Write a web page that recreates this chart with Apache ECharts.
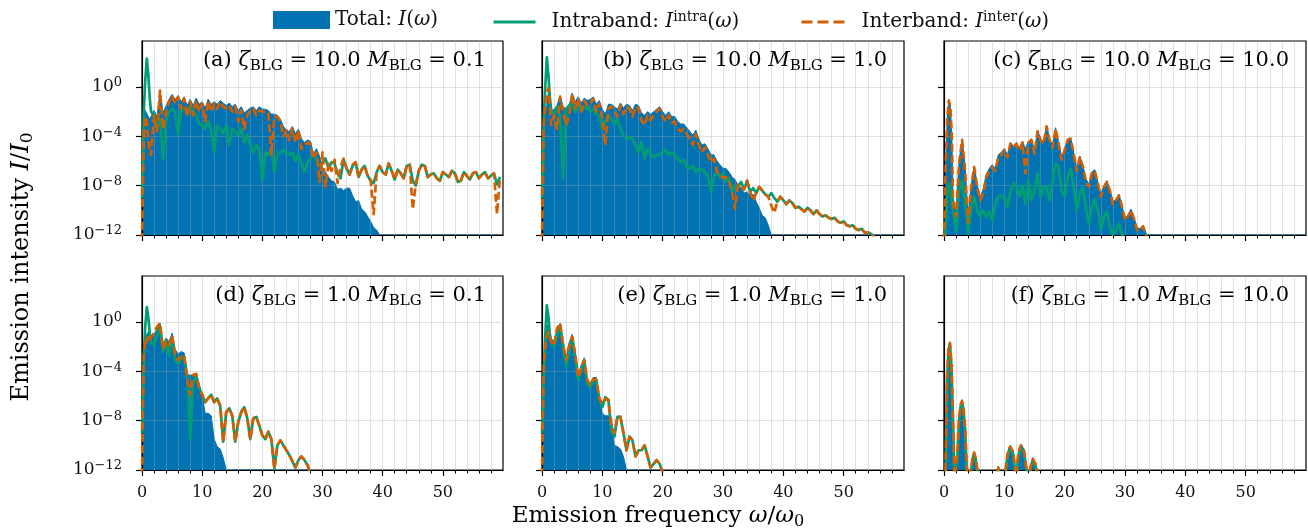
<!DOCTYPE html>
<html>
<head>
<meta charset="utf-8">
<script src="https://cdn.jsdelivr.net/npm/echarts@6/dist/echarts.min.js"></script>
<style>
  html, body { margin: 0; background: #fff; }
  #chart { width: 1308px; height: 529px; }
</style>
</head>
<body>
<div id="chart"></div>
<script>
// all intensities are log10(I/I0)
// frequency grid (w/w0): a few fine points near the first harmonic, then every 0.5
const freqHead = [0, 0.3, 0.55, 0.8, 1.05, 1.3];
const freq = freqHead.concat(Array.from({ length: 117 }, (_, i) => 1.5 + i * 0.5));
// panel (f) uses a finer grid, 0 .. 16 every 0.25
const freqF = Array.from({ length: 65 }, (_, i) => i * 0.25);

// (a) zeta = 10, M = 0.1
const aTotal = [-12, -2.3, -1.9, -2.0, -2.4, -2.6,
  -2.6, -1.9, -2.4, -0.3, -2.1, -1.5, -1.0, -0.6, -1.0, -0.7,
  -1.2, -0.8, -1.5, -1.0, -1.5, -0.9, -1.4, -1.2, -1.7, -1.0,
  -1.4, -1.2, -1.4, -1.1, -1.3, -1.5, -1.3, -1.6, -1.4, -1.9,
  -1.6, -2.1, -1.9, -1.7, -1.6, -1.9, -1.6, -1.8, -1.8, -1.9,
  -2.2, -2.2, -2.3, -2.6, -3.2, -3.5, -3.6, -3.2, -3.8, -3.4,
  -4.2, -4.5, -4.3, -4.4, -5.4, -5.0, -5.6, -6.5, -6.9, -7.3,
  -7.6, -7.7, -8.3, -8.2, -8.4, -8.2, -8.2, -8.8, -9.3, -9.2,
  -9.9, -10.1, -10.5, -10.9, -11.4, -11.6, -12, -12, -12, -12,
  -12, -12, -12, -12, -12, -12, -12, -12, -12, -12,
  -12, -12, -12, -12, -12, -12, -12, -12, -12, -12,
  -12, -12, -12, -12, -12, -12, -12, -12, -12, -12,
  -12, -12, -12, -12, -12, -12, -12];
const aIntra = [-9, -2.0, 0.6, 2.3, 1.0, -1.0,
  -2.0, -2.3, -3.4, -2.6, -5.9, -2.8, -2.0, -1.75, -2.0, -3.8,
  -1.9, -1.75, -2.0, -1.6, -1.9, -2.3, -3.0, -3.1, -3.4, -2.8,
  -3.5, -5.3, -3.1, -3.4, -3.8, -3.1, -4.7, -3.4, -3.6, -3.9,
  -3.4, -4.5, -3.9, -4.7, -5.3, -4.7, -5.0, -7.5, -5.3, -5.5,
  -5.0, -6.9, -5.5, -5.3, -5.1, -5.4, -5.5, -5.3, -6.0, -5.5,
  -6.2, -6.9, -6.1, -5.8, -5.5, -5.8, -6.4, -6.1, -5.8, -6.6,
  -6.1, -6.2, -7.0, -7.4, -5.9, -6.6, -7.1, -6.4, -6.1, -7.3,
  -6.7, -6.4, -7.2, -7.6, -7.8, -6.9, -6.4, -6.9, -7.1, -6.2,
  -6.8, -7.5, -6.7, -7.0, -7.4, -6.4, -6.3, -7.6, -8.0, -6.8,
  -6.3, -6.4, -7.3, -7.1, -7.0, -7.4, -7.6, -6.9, -7.1, -7.3,
  -6.8, -7.0, -7.7, -7.6, -6.9, -7.2, -7.5, -7.0, -6.9, -7.4,
  -7.1, -6.9, -7.4, -7.2, -7.0, -7.9, -7.3];
const aInter = [-12.5, -4.0, -2.4, -2.9, -4.3, -5.3,
  -5.5, -2.3, -3.6, -0.3, -3.4, -2.0, -1.2, -0.7, -1.35, -0.8,
  -1.75, -0.95, -2.4, -1.2, -2.3, -1.1, -2.0, -1.35, -2.8, -1.1,
  -2.0, -1.35, -1.75, -1.2, -1.6, -1.75, -1.5, -2.0, -1.6, -2.8,
  -1.9, -3.4, -2.3, -1.9, -1.75, -2.3, -1.9, -2.0, -2.0, -2.1,
  -5.5, -2.4, -2.4, -2.8, -4.0, -3.5, -4.3, -3.4, -4.5, -3.5,
  -5.0, -4.7, -4.5, -4.6, -5.8, -5.3, -7.7, -5.3, -8.1, -6.2,
  -6.8, -5.9, -7.8, -6.5, -5.8, -6.6, -7.1, -6.3, -6.1, -7.3,
  -6.7, -6.4, -7.2, -7.5, -10.3, -6.9, -6.4, -6.9, -7.1, -6.2,
  -6.8, -7.5, -6.7, -7.0, -7.4, -6.4, -6.3, -9.9, -7.9, -6.8,
  -6.3, -6.4, -7.3, -7.1, -7.0, -7.4, -7.6, -6.9, -7.1, -7.3,
  -6.8, -7.0, -7.7, -7.6, -6.9, -7.2, -7.5, -7.0, -6.9, -7.4,
  -7.1, -6.9, -7.4, -7.2, -7.0, -10.3, -7.3];

// (b) zeta = 10, M = 1
const bTotal = [-12, -2.3, -2.0, -1.5, -0.5, -1.3,
  -2.0, -1.8, -1.5, -0.7, -1.6, -1.8, -1.5, -0.5, -1.2, -0.8,
  -1.3, -0.9, -1.1, -1.0, -0.8, -1.4, -1.1, -1.8, -2.2, -1.4,
  -1.4, -1.6, -1.8, -1.3, -1.7, -1.4, -1.5, -1.9, -1.4, -1.5,
  -2.1, -2.3, -2.0, -2.2, -2.0, -1.8, -1.6, -2.0, -2.3, -2.0,
  -2.4, -2.4, -2.8, -3.0, -3.0, -3.3, -3.6, -3.9, -3.5, -4.2,
  -4.7, -4.6, -5.0, -5.5, -5.5, -6.0, -6.3, -6.6, -6.6, -6.9,
  -7.3, -7.5, -8.0, -8.2, -8.6, -8.5, -8.8, -8.7, -9.3, -9.8,
  -10.4, -10.6, -11.2, -12, -12, -12, -12, -12, -12, -12,
  -12, -12, -12, -12, -12, -12, -12, -12, -12, -12,
  -12, -12, -12, -12, -12, -12, -12, -12, -12, -12,
  -12, -12, -12, -12, -12, -12, -12, -12, -12, -12,
  -12, -12, -12, -12, -12, -12, -12];
const bIntra = [-9, -2.5, 0.1, 2.4, 1.0, -0.8,
  -1.8, -2.3, -1.6, -2.3, -7.4, -1.75, -1.5, -1.35, -2.0, -1.5,
  -1.9, -1.75, -1.5, -2.0, -1.75, -2.2, -2.4, -3.4, -2.8, -2.3,
  -2.6, -3.0, -2.6, -3.4, -3.9, -4.2, -4.1, -4.2, -4.7, -5.3,
  -4.5, -5.8, -5.0, -5.4, -5.7, -5.5, -5.5, -5.3, -5.1, -5.5,
  -5.3, -5.5, -5.8, -6.1, -5.9, -6.5, -6.6, -6.4, -6.9, -6.6,
  -6.7, -6.9, -7.2, -8.5, -7.3, -6.9, -7.3, -7.0, -7.7, -7.4,
  -8.5, -8.0, -8.1, -7.7, -8.3, -7.6, -8.5, -8.2, -8.6, -8.1,
  -8.4, -8.7, -8.9, -8.6, -9.0, -9.3, -8.9, -9.2, -9.5, -9.2,
  -9.4, -9.8, -9.7, -9.9, -10.1, -9.8, -10.0, -10.3, -10.0, -10.3,
  -10.5, -10.4, -10.6, -10.7, -10.6, -10.9, -11.0, -10.9, -11.2, -11.3,
  -11.2, -11.5, -11.6, -11.5, -11.8, -11.8, -11.9, -12.1, -12.6, -13.5,
  -14];
const bInter = [-12.5, -3.0, -1.5, -0.6, -0.1, -1.5,
  -3.1, -2.3, -3.4, -0.8, -2.0, -3.1, -2.3, -0.55, -1.75, -0.95,
  -2.0, -1.1, -1.5, -1.35, -0.95, -2.0, -1.35, -2.6, -4.7, -1.75,
  -1.6, -1.9, -2.4, -1.5, -2.2, -1.6, -1.75, -2.4, -1.6, -1.75,
  -2.7, -3.1, -2.3, -2.7, -2.3, -2.0, -1.75, -2.4, -2.8, -2.3,
  -2.9, -2.8, -3.4, -3.6, -3.4, -3.8, -4.2, -4.7, -3.8, -4.7,
  -5.3, -4.9, -5.5, -6.1, -5.8, -6.9, -7.0, -7.4, -7.3, -7.6,
  -8.5, -9.9, -7.9, -8.1, -8.3, -7.6, -8.5, -9.2, -8.6, -8.1,
  -8.4, -8.7, -8.9, -9.6, -10.2, -9.3, -8.9, -9.2, -9.5, -9.2,
  -9.4, -9.8, -9.7, -9.9, -10.1, -9.8, -10.0, -10.3, -10.0, -10.3,
  -10.5, -10.4, -10.6, -10.7, -10.6, -10.9, -11.0, -10.9, -11.2, -11.3,
  -11.2, -11.5, -11.6, -11.5, -11.8, -11.8, -11.9, -12.1, -12.6, -13.5,
  -14];

// (c) zeta = 10, M = 10
const cTotal = [-12, -6.0, -2.4, -1.0, -1.5, -4.0,
  -9.0, -10.0, -6.0, -4.2, -6.5, -10.5, -8.0, -6.4, -7.9, -8.9,
  -8.3, -7.1, -6.6, -6.3, -6.6, -5.5, -5.3, -5.0, -5.5, -4.5,
  -4.8, -4.5, -5.0, -4.4, -5.0, -4.4, -4.2, -5.2, -3.5, -4.2,
  -4.5, -3.1, -4.2, -4.8, -3.3, -4.5, -5.7, -5.0, -4.2, -4.1,
  -5.3, -6.6, -5.6, -6.3, -7.4, -7.9, -6.9, -6.7, -7.7, -8.7,
  -8.0, -7.6, -8.3, -9.3, -9.1, -8.7, -9.6, -10.6, -10.4, -9.9,
  -10.6, -11.4, -11.5, -11.2, -11.9, -12, -12, -12, -12, -12,
  -12, -12, -12, -12, -12, -12, -12, -12, -12, -12,
  -12, -12, -12, -12, -12, -12, -12, -12, -12, -12,
  -12, -12, -12, -12, -12, -12, -12, -12, -12, -12,
  -12, -12, -12, -12, -12, -12, -12, -12, -12, -12,
  -12, -12, -12, -12, -12, -12, -12];
const cIntra = [-14, -11, -8.9, -7.8, -8.3, -9.5,
  -10.1, -11.7, -8.4, -7.6, -9.5, -11.9, -10.0, -8.9, -10.0, -10.5,
  -10.0, -10.5, -10.1, -10.8, -9.5, -8.9, -8.8, -8.9, -9.7, -8.5,
  -7.8, -8.1, -8.9, -8.0, -9.5, -7.6, -9.2, -8.4, -7.0, -8.9,
  -8.1, -8.1, -9.2, -7.6, -6.2, -6.5, -8.4, -8.9, -7.3, -6.6,
  -8.1, -10.0, -8.6, -8.2, -9.7, -11.1, -9.7, -9.1, -10.0, -11.6,
  -10.5, -10.1, -11.3, -12.0, -11.6, -11.1, -11.9, -13.0, -14];
const cInter = [-12.5, -6.0, -2.5, -1.1, -1.6, -4.0,
  -9.5, -10.5, -6.2, -4.3, -6.8, -11.0, -8.1, -6.5, -8.1, -9.2,
  -8.6, -7.3, -6.8, -6.5, -6.8, -5.7, -5.5, -5.1, -5.7, -4.6,
  -4.9, -4.6, -5.1, -4.5, -7.0, -4.5, -4.3, -5.4, -3.6, -4.3,
  -4.6, -3.2, -4.3, -4.9, -3.4, -4.6, -5.9, -5.1, -4.3, -4.2,
  -5.4, -6.8, -5.7, -6.4, -7.6, -8.1, -7.0, -6.8, -7.8, -8.9,
  -8.1, -7.7, -8.4, -9.5, -9.2, -8.8, -9.7, -10.8, -10.5, -10.0,
  -10.7, -11.6, -11.6, -11.3, -12.0, -13.5, -14];

// (d) zeta = 1, M = 0.1
const dTotal = [-12, -2.8, -1.8, -1.0, -0.8, -1.3,
  -1.4, -1.0, -0.6, -0.1, -1.8, -1.3, -1.6, -0.9, -2.2, -2.6,
  -2.4, -2.5, -4.3, -4.3, -4.3, -4.2, -5.0, -5.9, -7.4, -7.4,
  -7.6, -9.5, -10.1, -10.3, -11.0, -12, -12, -12, -12, -12,
  -12, -12, -12, -12, -12, -12, -12, -12, -12, -12,
  -12, -12, -12, -12, -12, -12, -12, -12, -12, -12,
  -12, -12, -12, -12, -12];
const dIntra = [-9, -2.8, -0.3, 1.2, 0.4, -1.0,
  -1.6, -1.9, -1.1, -0.4, -2.4, -1.5, -2.7, -1.2, -3.1, -3.4,
  -3.0, -2.8, -4.3, -9.5, -5.1, -4.3, -5.4, -5.9, -6.5, -6.2,
  -5.9, -6.5, -6.2, -6.8, -9.7, -7.3, -7.0, -7.6, -9.7, -8.1,
  -7.3, -6.9, -7.8, -9.5, -7.8, -7.7, -8.4, -9.2, -9.5, -8.9,
  -9.5, -11.9, -10.0, -9.6, -10.0, -10.4, -10.8, -11.3, -11.8, -11.2,
  -10.9, -11.2, -11.6, -12.3, -14];
const dInter = [-12.5, -2.8, -1.4, -1.6, -1.1, -1.4,
  -1.3, -0.9, -0.4, -0.1, -2.2, -1.6, -1.9, -1.1, -2.6, -3.1,
  -2.8, -2.7, -4.6, -5.9, -4.3, -4.2, -5.4, -5.9, -6.5, -6.2,
  -5.9, -6.5, -6.2, -6.8, -9.7, -7.3, -7.0, -7.6, -9.7, -8.1,
  -7.3, -6.9, -7.8, -9.5, -7.8, -7.7, -8.4, -9.2, -9.5, -8.9,
  -9.5, -11.9, -10.0, -9.6, -10.0, -10.4, -10.8, -11.3, -11.8, -11.2,
  -10.9, -11.2, -11.6, -12.3, -14];

// (e) zeta = 1, M = 1
const eTotal = [-12, -3.5, -1.5, -0.2, -0.4, -1.1,
  -1.3, -1.6, -0.6, -0.1, -1.5, -3.0, -1.7, -1.0, -2.4, -4.3,
  -3.5, -2.9, -4.6, -5.0, -4.5, -4.5, -6.2, -7.4, -7.6, -7.6,
  -7.7, -10.0, -10.1, -10.3, -10.9, -12, -12, -12, -12, -12,
  -12, -12, -12, -12, -12, -12, -12, -12, -12];
const eIntra = [-9, -4.0, -1.0, 1.35, 0.5, -1.0,
  -1.5, -2.0, -1.2, -0.3, -2.0, -3.6, -2.3, -1.2, -2.8, -4.7,
  -3.9, -3.1, -5.0, -5.3, -4.7, -4.7, -6.3, -6.9, -6.1, -6.3,
  -8.8, -9.3, -7.7, -7.7, -9.0, -10.4, -9.3, -9.6, -10.9, -10.4,
  -10.4, -10.0, -10.9, -11.8, -11.5, -11.2, -11.5, -12.2, -14];
const eInter = [-12.5, -3.5, -2.0, -1.2, -0.8, -1.3,
  -1.6, -1.9, -0.5, -0.1, -1.8, -3.1, -1.9, -1.2, -2.6, -4.5,
  -3.8, -3.1, -4.7, -5.1, -4.6, -4.7, -6.2, -6.6, -6.2, -6.3,
  -8.5, -9.0, -7.7, -7.7, -9.0, -10.4, -9.3, -9.6, -10.9, -10.4,
  -10.4, -10.0, -10.9, -11.8, -11.5, -11.2, -11.5, -12.2, -14];

// (f) zeta = 1, M = 10  (on freqF)
const fTotal = [-13, -12.5, -4.4, -1.9, -1.6, -3.4, -7.8, -13, -13, -10.4,
  -7.7, -6.6, -6.3, -6.9, -8.5, -11.4, -13, -13, -11.8, -10.8,
  -10.5, -10.9, -11.8, -13, -13, -13, -13, -13, -13, -13,
  -13, -13, -13, -13, -13, -12.2, -11.7, -12.4, -13, -13,
  -13, -11.7, -10.7, -10.2, -10.0, -10.0, -10.5, -11.7, -12.4, -10.9,
  -10.2, -9.9, -9.9, -10.3, -11.1, -12.2, -12.5, -11.9, -11.3, -11.0,
  -11.0, -11.5, -12.4, -13, -13];
const fIntra = [-13, -12.8, -4.8, -2.3, -2.0, -3.8, -8.3, -13, -13, -10.8,
  -8.0, -6.9, -6.6, -7.2, -8.8, -11.7, -13, -13, -12.0, -11.1,
  -10.8, -11.2, -12.0, -13, -13, -13, -13, -13, -13, -13,
  -13, -13, -13, -13, -13, -12.4, -11.9, -12.6, -13, -13,
  -13, -12.0, -11.0, -10.5, -10.3, -10.3, -10.8, -12.0, -12.6, -11.2,
  -10.5, -10.2, -10.2, -10.6, -11.4, -12.4, -12.7, -12.1, -11.6, -11.3,
  -11.3, -11.8, -12.6, -13, -13];
const fInter = [-13, -12.5, -4.5, -2.0, -1.7, -3.5, -8.0, -13, -13, -10.5,
  -7.8, -6.7, -6.4, -7.0, -8.6, -11.5, -13, -13, -11.9, -10.9,
  -10.6, -11.0, -11.9, -13, -13, -13, -13, -13, -13, -13,
  -13, -13, -13, -13, -13, -12.3, -11.8, -12.5, -13, -13,
  -13, -11.8, -10.8, -10.3, -10.1, -10.1, -10.6, -11.8, -12.5, -11.0,
  -10.3, -10.0, -10.0, -10.4, -11.2, -12.3, -12.6, -12.0, -11.4, -11.1,
  -11.1, -11.6, -12.5, -13, -13];

const panelNames = ['a', 'b', 'c', 'd', 'e', 'f'];
const zetaVals = ['10.0', '10.0', '10.0', '1.0', '1.0', '1.0'];
const massVals = ['0.1', '1.0', '10.0', '0.1', '1.0', '10.0'];
const yTicks = [-12, -8, -4, 0];
const xTicks = [0, 10, 20, 30, 40, 50];

const BLUE = '#0173b2', GREEN = '#029e73', ORANGE = '#d55e00';
const TXT = '#111';
const FONT = "'DejaVu Serif', serif";
const GRIDC = 'rgba(170,170,170,0.35)';

function richSet(size, ratio) {
    let small = Math.round(size * (ratio || 0.7));
    return {
        n: { fontFamily: FONT, fontSize: size, color: TXT, lineHeight: size + 4 },
        i: { fontFamily: FONT, fontSize: size, fontStyle: 'italic', color: TXT, lineHeight: size + 4 },
        s: { fontFamily: FONT, fontSize: small, color: TXT, verticalAlign: 'bottom', lineHeight: small },
        p: { fontFamily: FONT, fontSize: small, color: TXT, verticalAlign: 'top', lineHeight: small }
    };
}

const panelData = [
    { xs: freq, total: aTotal, intra: aIntra, inter: aInter },
    { xs: freq, total: bTotal, intra: bIntra, inter: bInter },
    { xs: freq, total: cTotal, intra: cIntra, inter: cInter },
    { xs: freq, total: dTotal, intra: dIntra, inter: dInter },
    { xs: freq, total: eTotal, intra: eIntra, inter: eInter },
    { xs: freqF, total: fTotal, intra: fIntra, inter: fInter }
];

const rows = [{ top: 41, height: 194 }, { top: 276, height: 194 }];
const cols = [{ left: 142, width: 361 }, { left: 542, width: 362 }, { left: 944, width: 362 }];

function pts(xs, ys) {
    return ys.map((v, i) => [xs[i], v]);
}

let grids = [], xAxes = [], yAxes = [], series = [], graphics = [];

panelData.forEach((p, k) => {
    let r = rows[Math.floor(k / 3)], c = cols[k % 3];
    let bottomRow = k >= 3, leftCol = k % 3 === 0;
    grids.push({
        left: c.left, top: r.top, width: c.width, height: r.height,
        show: true, borderColor: '#000', borderWidth: 1.2, backgroundColor: 'transparent'
    });
    xAxes.push({
        type: 'value', gridIndex: k, min: 0, max: 60, interval: 10, z: 2,
        axisLine: { show: true, onZero: false, lineStyle: { color: '#000', width: 1.2 } },
        axisTick: { show: true, length: 6, customValues: xTicks, lineStyle: { color: '#000', width: 1.2 } },
        minorTick: { show: true, splitNumber: 5, length: 3.5, lineStyle: { color: '#000', width: 1 } },
        splitLine: { show: true, lineStyle: { color: GRIDC, width: 1 } },
        minorSplitLine: { show: true, lineStyle: { color: GRIDC, width: 1 } },
        axisLabel: {
            show: bottomRow, customValues: xTicks, margin: 15,
            fontFamily: FONT, fontSize: 16, color: TXT
        }
    });
    yAxes.push({
        type: 'value', gridIndex: k, min: -12, max: 3.73, interval: 4, z: 2,
        axisLine: { show: true, onZero: false, lineStyle: { color: '#000', width: 1.2 } },
        axisTick: { show: true, length: 6, customValues: yTicks, lineStyle: { color: '#000', width: 1.2 } },
        splitLine: { show: true, lineStyle: { color: GRIDC, width: 1 } },
        axisLabel: {
            show: leftCol, customValues: yTicks, margin: 20,
            formatter: v => '{n|10}{p|' + (v === 0 ? '0' : '\u2212' + Math.abs(v)) + '}',
            rich: richSet(17, 0.75)
        }
    });
    series.push({
        type: 'line', name: 'Total', xAxisIndex: k, yAxisIndex: k, z: 1,
        data: pts(p.xs, p.total), symbol: 'none', silent: true,
        itemStyle: { color: BLUE },
        lineStyle: { color: BLUE, width: 1 },
        areaStyle: { color: BLUE, opacity: 1, origin: 'start' }
    });
    series.push({
        type: 'line', name: 'Intraband', xAxisIndex: k, yAxisIndex: k, z: 3,
        data: pts(p.xs, p.intra), symbol: 'none', silent: true,
        itemStyle: { color: GREEN },
        lineStyle: { color: GREEN, width: 2.7, join: 'round' }
    });
    series.push({
        type: 'line', name: 'Interband', xAxisIndex: k, yAxisIndex: k, z: 4,
        data: pts(p.xs, p.inter), symbol: 'none', silent: true,
        itemStyle: { color: ORANGE },
        lineStyle: { color: ORANGE, width: 2.7, type: [8, 3.5], join: 'round' }
    });
    graphics.push({
        type: 'text', x: c.left + c.width - 17, y: r.top + 20, z: 10,
        style: {
            text: '{n|(' + panelNames[k] + ') }{i|\u03b6}{s|BLG}{n| = ' + zetaVals[k] + ' }{i|M}{s|BLG}{n| = ' + massVals[k] + '}',
            align: 'right', verticalAlign: 'middle', rich: richSet(21)
        }
    });
});

graphics.push({
    type: 'text', x: 658, y: 516, z: 10,
    style: {
        text: '{n|Emission frequency }{i|\u03c9}{n|/}{i|\u03c9}{s|0}',
        align: 'center', verticalAlign: 'middle', rich: richSet(23)
    }
});
graphics.push({
    type: 'text', x: 22, y: 267, z: 10, rotation: Math.PI / 2,
    style: {
        text: '{n|Emission intensity }{i|I}{n|/}{i|I}{s|0}',
        align: 'center', verticalAlign: 'middle', rich: richSet(24)
    }
});

const legendRich = richSet(20);
const hideSymbol = { opacity: 0 };
const option = {
    animation: false,
    backgroundColor: '#fff',
    grid: grids,
    xAxis: xAxes,
    yAxis: yAxes,
    legend: [
        {
            data: [{ name: 'Total', icon: 'rect' }], left: 268, top: 5, itemWidth: 57, itemHeight: 18,
            selectedMode: false,
            formatter: () => '{n|Total: }{i|I}{n|(}{i|\u03c9}{n|)}',
            textStyle: { rich: legendRich }
        },
        {
            data: ['Intraband'], left: 487, top: 5, itemWidth: 42, itemHeight: 18,
            selectedMode: false, itemStyle: hideSymbol,
            lineStyle: { width: 3 },
            formatter: () => '{n|Intraband: }{i|I}{p|intra}{n|(}{i|\u03c9}{n|)}',
            textStyle: { rich: legendRich, padding: [0, 0, 0, 11] }
        },
        {
            data: ['Interband'], left: 795, top: 5, itemWidth: 44, itemHeight: 18,
            selectedMode: false, itemStyle: hideSymbol,
            lineStyle: { width: 3, type: [11, 5] },
            formatter: () => '{n|Interband: }{i|I}{p|inter}{n|(}{i|\u03c9}{n|)}',
            textStyle: { rich: legendRich, padding: [0, 0, 0, 11] }
        }
    ],
    graphic: graphics,
    series: series
};

let chart = echarts.init(document.getElementById('chart'));
chart.setOption(option);
window.addEventListener('resize', function () {
    chart.resize();
});
</script>
</body>
</html>
